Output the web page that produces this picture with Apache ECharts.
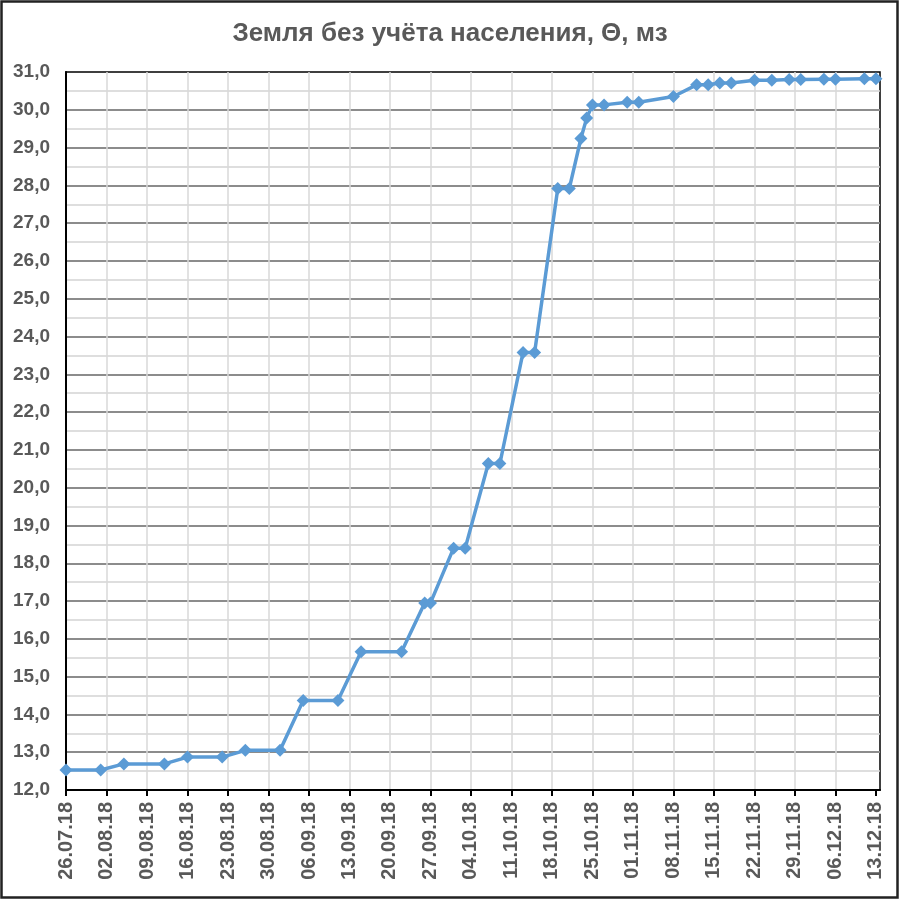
<!DOCTYPE html>
<html>
<head>
<meta charset="utf-8">
<title>Земля без учёта населения</title>
<script src="https://cdn.jsdelivr.net/npm/echarts@6/dist/echarts.min.js"></script>
<style>
  html, body { margin: 0; padding: 0; background: #fff; }
  #chart { width: 900px; height: 900px; }
</style>
</head>
<body>
<div id="chart"></div>
<script>
// даты замеров и значения
var dates = ['26.07.18', '01.08.18', '05.08.18', '12.08.18', '16.08.18', '22.08.18', '26.08.18',
  '01.09.18', '05.09.18', '11.09.18', '15.09.18', '22.09.18', '26.09.18', '27.09.18',
  '01.10.18', '03.10.18', '07.10.18', '09.10.18', '13.10.18', '15.10.18', '19.10.18',
  '21.10.18', '23.10.18', '24.10.18', '25.10.18', '27.10.18', '31.10.18', '02.11.18',
  '08.11.18', '12.11.18', '14.11.18', '16.11.18', '18.11.18', '22.11.18', '25.11.18',
  '28.11.18', '30.11.18', '04.12.18', '06.12.18', '11.12.18', '13.12.18'];
var values = [12.53, 12.53, 12.69, 12.69, 12.87, 12.87, 13.05, 13.05, 14.37, 14.37,
  15.66, 15.66, 16.95, 16.95, 18.4, 18.4, 20.64, 20.64, 23.58, 23.58,
  27.92, 27.92, 29.24, 29.78, 30.13, 30.13, 30.2, 30.2, 30.35, 30.66,
  30.66, 30.71, 30.71, 30.78, 30.78, 30.8, 30.8, 30.81, 30.81, 30.82, 30.82];
// подписи оси X
var tickLabels = ['26.07.18', '02.08.18', '09.08.18', '16.08.18', '23.08.18', '30.08.18',
  '06.09.18', '13.09.18', '20.09.18', '27.09.18', '04.10.18', '11.10.18', '18.10.18',
  '25.10.18', '01.11.18', '08.11.18', '15.11.18', '22.11.18', '29.11.18', '06.12.18', '13.12.18'];

var gray = '#595959';
var font = '"Liberation Sans", Arial, sans-serif';

// номер дня от начала оси
function dayOf(s) {
  var p = s.split('.');
  return (Date.UTC(2000 + Number(p[2]), Number(p[1]) - 1, Number(p[0])) - Date.UTC(2018, 6, 26)) / 86400000;
}

var tickDays = tickLabels.map(dayOf);
var labelByDay = {};
tickLabels.forEach(function (t, i) { labelByDay[tickDays[i]] = t; });

var chart = echarts.init(document.getElementById('chart'));
window.onresize = chart.resize;

chart.setOption({
  animation: false,
  backgroundColor: '#fff',
  title: {
    text: 'Земля без учёта населения, Θ, мз',
    left: 'center',
    top: 16,
    textStyle: { color: gray, fontSize: 26, fontWeight: 'bold', fontFamily: font }
  },
  graphic: [{
    type: 'rect',
    shape: { x: 1.5, y: 1.5, width: 896, height: 896 },
    style: { fill: 'none', stroke: '#222', lineWidth: 2.5 },
    silent: true
  }],
  grid: {
    left: 66, top: 72, right: 20, bottom: 110,
    show: true, borderColor: '#000', borderWidth: 1.5,
    containLabel: false
  },
  xAxis: {
    type: 'value',
    min: 0,
    max: 140.7,
    axisLine: { show: true, lineStyle: { color: '#000', width: 2 } },
    axisTick: { show: true, customValues: tickDays, length: 6, lineStyle: { color: '#000', width: 2 } },
    axisLabel: {
      customValues: tickDays,
      rotate: 90,
      margin: 12,
      color: gray,
      fontSize: 20,
      fontWeight: 'bold',
      fontFamily: font,
      formatter: function (v) { return labelByDay[v] || ''; }
    },
    splitLine: { show: true, showMinLine: false, showMaxLine: false, lineStyle: { color: '#d9d9d9', width: 1.5 } }
  },
  yAxis: {
    type: 'value',
    min: 12,
    max: 31,
    interval: 1,
    axisLine: { show: true, lineStyle: { color: '#000', width: 2 } },
    axisTick: { show: false },
    axisLabel: {
      margin: 16,
      color: gray,
      fontSize: 19,
      fontWeight: 'bold',
      fontFamily: font,
      formatter: function (v) { return v.toFixed(1).replace('.', ','); }
    },
    splitLine: { show: true, showMinLine: false, showMaxLine: false, lineStyle: { color: '#8c8c8c', width: 2 } },
    minorTick: { show: false, splitNumber: 2 },
    minorSplitLine: { show: true, lineStyle: { color: '#d4d4d4', width: 1.5 } }
  },
  series: [{
    type: 'line',
    data: dates.map(function (d, i) { return [dayOf(d), values[i]]; }),
    symbol: 'diamond',
    symbolSize: 13,
    showAllSymbol: true,
    itemStyle: { color: '#5b9bd5' },
    lineStyle: { color: '#5b9bd5', width: 3.5 }
  }]
});
</script>
</body>
</html>
